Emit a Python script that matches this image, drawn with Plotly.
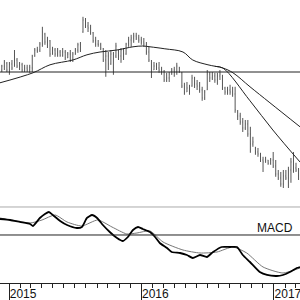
import pandas as pd
import plotly.graph_objects as go

# ---- weekly price bars ----
bar_dates = pd.date_range("2014-12-12", periods=118, freq="7D")
highs = [10.18,10.30,10.25,10.25,10.30,10.55,10.35,10.25,10.23,10.18,10.18,10.18,10.43,10.60,10.63,10.75,11.13,10.98,10.88,10.80,
         10.63,10.60,10.60,10.55,10.60,10.55,10.50,10.55,10.50,10.60,10.73,10.75,11.38,11.35,11.25,11.18,11.00,10.88,10.80,10.73,
         10.60,10.55,10.50,10.55,10.50,10.73,10.55,10.60,10.60,10.73,10.88,10.93,10.98,10.98,10.93,10.88,10.85,10.75,10.63,10.30,
         10.25,10.23,10.25,10.13,10.05,9.98,10.00,10.10,10.13,10.23,10.13,10.00,9.73,9.75,9.68,9.93,9.88,9.80,9.75,9.63,
         9.55,10.05,10.00,10.00,9.98,9.98,10.05,9.93,9.63,9.63,9.68,9.63,9.63,9.05,8.98,8.85,8.80,8.80,8.63,8.38,
         8.13,8.10,7.98,7.88,7.88,7.80,7.85,8.00,7.80,7.55,7.50,7.55,7.55,7.63,7.85,8.00,7.73,7.60]
lows = [10.00,10.05,10.00,9.93,10.05,10.13,10.10,10.05,10.00,10.00,10.00,9.98,10.00,10.38,10.48,10.50,10.63,10.68,10.60,10.38,
        10.43,10.38,10.38,10.38,10.38,10.30,10.35,10.25,10.25,10.43,10.48,10.50,10.98,11.10,11.00,10.93,10.73,10.63,10.63,10.55,
        10.25,9.88,10.05,10.18,9.93,10.35,10.30,10.23,10.30,10.43,10.63,10.63,10.73,10.80,10.73,10.68,10.63,10.43,10.25,9.85,
        10.05,10.05,9.98,9.93,9.75,9.75,9.75,9.93,9.88,9.93,9.98,9.60,9.43,9.50,9.43,9.63,9.60,9.55,9.48,9.28,
        9.30,9.55,9.75,9.80,9.73,9.68,9.80,9.55,9.43,9.43,9.43,9.38,8.98,8.80,8.68,8.50,8.55,8.38,7.98,8.13,
        7.93,7.88,7.75,7.50,7.73,7.68,7.68,7.60,7.38,7.30,7.13,7.10,7.30,7.10,7.23,7.48,7.50,7.30]
opens = [10.05,10.15,10.22,10.05,10.20,10.15,10.30,10.15,10.18,10.05,10.10,10.05,10.10,10.40,10.55,10.55,10.70,10.95,10.75,10.78,
         10.45,10.55,10.45,10.50,10.42,10.50,10.35,10.45,10.30,10.45,10.55,10.68,11.00,11.30,11.15,11.10,10.98,10.78,10.70,10.68,
         10.58,10.30,10.40,10.20,10.45,10.40,10.55,10.40,10.55,10.45,10.70,10.80,10.85,10.90,10.85,10.80,10.75,10.70,10.50,10.28,
         10.05,10.15,10.10,10.05,10.00,9.80,9.85,9.95,10.05,10.00,10.10,9.98,9.65,9.50,9.60,9.65,9.85,9.70,9.65,9.55,
         9.35,9.55,9.95,9.85,9.90,9.80,9.90,9.90,9.60,9.50,9.55,9.50,9.45,9.00,8.90,8.75,8.60,8.70,8.45,8.20,
         8.10,8.00,7.95,7.80,7.75,7.80,7.72,7.80,7.65,7.45,7.35,7.20,7.40,7.35,7.55,7.75,7.60,7.55]
closes = [10.15,10.25,10.05,10.20,10.10,10.45,10.15,10.20,10.05,10.10,10.05,10.12,10.40,10.55,10.52,10.70,11.00,10.75,10.80,10.45,
          10.55,10.45,10.50,10.42,10.50,10.35,10.45,10.30,10.45,10.55,10.68,10.72,11.30,11.15,11.10,10.98,10.78,10.70,10.68,10.60,
          10.30,10.40,10.20,10.45,10.10,10.65,10.40,10.55,10.45,10.70,10.80,10.85,10.90,10.85,10.80,10.75,10.70,10.50,10.30,10.00,
          10.15,10.10,10.05,10.00,9.80,9.85,9.95,10.05,10.00,10.15,10.00,9.65,9.50,9.60,9.55,9.85,9.70,9.65,9.55,9.35,
          9.50,9.95,9.85,9.90,9.80,9.90,9.95,9.60,9.50,9.55,9.50,9.45,9.05,8.90,8.75,8.60,8.70,8.45,8.20,8.25,
          8.00,7.95,7.80,7.75,7.80,7.72,7.80,7.65,7.45,7.35,7.20,7.40,7.35,7.55,7.75,7.60,7.55,7.40]

# ---- moving averages ----
ma_long_dates = ["2014-12-07","2015-03-08","2015-04-24","2015-06-26","2015-08-04","2015-09-09","2015-10-26","2015-12-09",
                 "2016-01-05","2016-01-25","2016-03-06","2016-04-25","2016-05-22","2016-07-03","2016-08-13","2016-09-10",
                 "2016-10-27","2016-12-21","2017-03-14"]
ma_long = [9.73,9.98,10.18,10.30,10.43,10.50,10.55,10.63,10.65,10.63,10.58,10.50,10.30,10.18,10.10,9.98,9.63,9.23,8.63]
ma_short_dates = ["2016-07-22","2016-08-13","2016-10-27","2016-12-29","2017-03-14"]
ma_short = [10.14,10.10,9.28,8.55,7.75]
level = 10.0

# ---- MACD ----
macd_dates = ["2014-12-07","2015-01-04","2015-01-31","2015-02-28","2015-03-08","2015-03-27","2015-04-10","2015-04-21",
              "2015-05-02","2015-05-22","2015-06-10","2015-07-07","2015-07-21","2015-08-04","2015-08-18","2015-09-01",
              "2015-09-17","2015-10-06","2015-10-26","2015-11-11","2015-11-25","2015-12-09","2015-12-23","2016-01-05",
              "2016-01-25","2016-02-08","2016-02-21","2016-03-12","2016-03-25","2016-04-17","2016-05-06","2016-05-22",
              "2016-06-11","2016-06-30","2016-07-17","2016-08-10","2016-09-01","2016-09-21","2016-10-07","2016-10-27",
              "2016-11-23","2016-12-13","2017-01-09","2017-01-26","2017-02-14","2017-03-05","2017-03-14"]
macd = [0.16,0.15,0.13,0.11,0.09,0.17,0.21,0.23,0.20,0.14,0.10,0.07,0.08,0.17,0.20,0.17,0.10,0.03,-0.03,-0.06,-0.02,
        0.05,0.08,0.06,0.03,-0.02,-0.08,-0.13,-0.17,-0.18,-0.20,-0.23,-0.20,-0.22,-0.17,-0.12,-0.12,-0.12,-0.20,-0.27,
        -0.37,-0.40,-0.41,-0.40,-0.37,-0.33,-0.32]
signal_dates = ["2014-12-07","2015-02-28","2015-04-02","2015-05-08","2015-06-10","2015-07-21","2015-09-03","2015-10-12",
                "2015-11-22","2015-12-20","2016-01-25","2016-03-01","2016-04-25","2016-06-11","2016-07-28","2016-09-10",
                "2016-10-18","2016-12-02","2017-01-26","2017-03-14"]
signal = [0.17,0.12,0.15,0.20,0.13,0.09,0.15,0.08,0.01,0.02,0.04,-0.07,-0.15,-0.18,-0.17,-0.12,-0.18,-0.32,-0.38,-0.33]

FONT = "Liberation Sans, Arial, sans-serif"
split = 0.2686

fig = go.Figure()
fig.add_trace(go.Ohlc(x=bar_dates, open=opens, high=highs, low=lows, close=closes,
                      increasing=dict(line=dict(color="#555555", width=1)),
                      decreasing=dict(line=dict(color="#555555", width=1)),
                      tickwidth=0.15, xaxis="x", yaxis="y", hoverinfo="skip"))
fig.add_trace(go.Scatter(x=ma_long_dates, y=ma_long, mode="lines", line=dict(color="#222", width=1, shape="spline"),
                         xaxis="x", yaxis="y", hoverinfo="skip"))
fig.add_trace(go.Scatter(x=ma_short_dates, y=ma_short, mode="lines", line=dict(color="#222", width=1, shape="spline"),
                         xaxis="x", yaxis="y", hoverinfo="skip"))
fig.add_trace(go.Scatter(x=signal_dates, y=signal, mode="lines", line=dict(color="#777", width=1, shape="spline", smoothing=0.6),
                         xaxis="x", yaxis="y2", hoverinfo="skip"))
fig.add_trace(go.Scatter(x=macd_dates, y=macd, mode="lines", line=dict(color="#000", width=1.8, shape="spline", smoothing=0.5),
                         xaxis="x", yaxis="y2", hoverinfo="skip"))

fig.add_shape(type="line", xref="paper", x0=0, x1=1, yref="y", y0=level, y1=level, line=dict(color="#222", width=1))
fig.add_shape(type="line", xref="paper", x0=0, x1=1, yref="y2", y0=0, y1=0, line=dict(color="#222", width=1))
fig.add_shape(type="line", xref="paper", x0=0, x1=1, yref="paper", y0=split, y1=split, line=dict(color="#aaaaaa", width=1))

fig.add_annotation(text="MACD", xref="paper", yref="paper", x=0.983, y=0.194, xanchor="right", yanchor="middle",
                   showarrow=False, font=dict(family=FONT, size=12, color="#111"))

fig.update_layout(
    width=300, height=300, margin=dict(l=0, r=0, t=0, b=17),
    paper_bgcolor="white", plot_bgcolor="white", showlegend=False,
    xaxis=dict(type="date", range=["2014-12-07", "2017-03-14"], anchor="y2", domain=[0, 1],
               rangeslider=dict(visible=False), showgrid=False, zeroline=False,
               showline=True, linecolor="#222", linewidth=1,
               ticks="outside", ticklen=17, tickcolor="#222", tickwidth=1,
               dtick="M12", tick0="2015-01-01", tickformat="%Y",
               tickfont=dict(family=FONT, size=12, color="#111"),
               ticklabelshift=14, ticklabelstandoff=-17, ticklabeloverflow="allow", automargin=False,
               minor=dict(ticks="outside", ticklen=4, tickcolor="#222", dtick="M1", tick0="2015-01-01", showgrid=False)),
    yaxis=dict(domain=[split, 1], range=[6.625, 11.8], visible=False, fixedrange=True),
    yaxis2=dict(domain=[0, split], range=[-0.48, 0.28], visible=False, fixedrange=True),
)

fig.write_html("out.html")
